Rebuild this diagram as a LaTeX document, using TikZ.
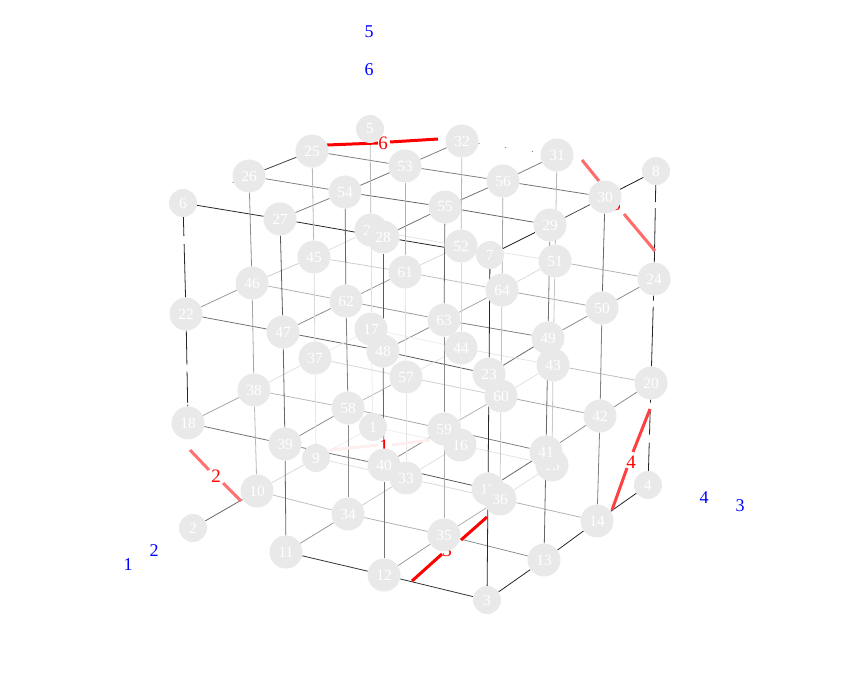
\documentclass[tikz,border=0pt]{standalone}
\usepackage{fontspec}
\setmainfont{Liberation Serif}
\pgfdeclarelayer{bg}
\pgfsetlayers{bg,main}
\definecolor{nodegray}{RGB}{233,233,233}
\tikzset{
  vert/.style={circle,fill=nodegray,text=white,inner sep=0pt,font=\fontsize{15.5}{15.5}\selectfont},
  small/.style={vert,minimum size=28pt},
  big/.style={vert,minimum size=33pt},
  edge/.style={line width=0.8pt},
  axisline/.style={line width=3pt},
  redlabel/.style={inner sep=0pt,text=red,font=\fontsize{19}{19}\selectfont},
  bluelabel/.style={inner sep=0pt,text=blue,font=\fontsize{18}{18}\selectfont}
}
\begin{document}
\begin{tikzpicture}[x=1pt,y=-1pt]
\useasboundingbox (0,0) rectangle (850,700);
% blue labels
\foreach \n/\t/\x/\y in {b1/1/128/565,b2/2/154/551,b3/3/740/506,b4/4/704/498,b5/5/369/32,b6/6/369/70}
  \node[bluelabel] (\n) at (\x,\y) {\t};
% red axis segments
\foreach \n/\ax/\ay/\bx/\by/\cx/\cy/\dx/\dy/\col in {
  1/331/450/378/445/392/445/430/440/FFEEEE,
  2/190/450/209/470/223/483/241/501/FF7070,
  3/412/581/442/554/461/540/487/517/FF0000,
  4/612/510/627/468/633/452/650/409/FF4040,
  5/582/160/599/181/624/214/655/251/FF6A6A,
  6/327/145/378/143/390/142/438/139/FF0000}{
  \definecolor{axcol}{HTML}{\col}
  \coordinate (p\n a) at (\ax,\ay);
  \coordinate (p\n b) at (\bx,\by);
  \coordinate (p\n c) at (\cx,\cy);
  \coordinate (p\n d) at (\dx,\dy);
  \draw[axisline,axcol] (p\n a) -- (p\n b);
  \draw[axisline,axcol] (p\n c) -- (p\n d);
}
\foreach \n/\x/\y in {1/384/446,2/216/476,3/447/550,4/631/462,5/616/204,6/383/143}
  \node[redlabel] (r\n) at (\x,\y) {\n};
% vertices
\foreach \n/\x/\y in {1/373/427,2/193/528,3/487/600,4/648/485,5/370/129,6/183/203,7/490/255,8/656/171,9/316/458}
  \node[small] (v\n) at (\x,\y) {\n};
\foreach \n/\x/\y in {
  10/257/491,11/286/552,12/384/575,13/544/560,14/597/521,15/552/465,16/460/445,
  17/371/329,18/188/423,19/488/489,20/651/383,21/371/230,22/186/314,23/489/374,24/654/279,
  25/312/151,26/249/176,27/280/219,28/383/237,29/550/225,30/605/197,31/557/155,32/462/141,
  33/406/478,34/348/514,35/444/535,36/500/499,37/315/358,38/254/390,39/285/444,40/384/465,
  41/546/452,42/600/416,43/553/365,44/461/348,45/314/257,46/252/283,47/283/332,48/383/351,
  49/548/338,50/602/308,51/555/261,52/461/246,53/405/166,54/345/192,55/445/207,56/503/181,
  57/406/377,58/348/408,59/444/429,60/501/396,61/405/272,62/346/301,63/444/320,64/502/290}
  \node[big] (v\n) at (\x,\y) {\n};
\begin{pgfonlayer}{bg}
% a/b/percent black
\foreach \a/\b/\d in {
  % top layer
  25/26/75, 32/53/50,53/54/55,54/27/50, 31/56/50,56/55/55,55/28/55,
  8/30/90,30/29/70,29/7/90,
  25/53/50,53/56/50,56/30/55, 26/54/50,54/55/60,55/29/60,
  6/27/85,27/28/85,28/7/85,
  % layer 2
  21/45/12,45/46/20,46/22/40, 21/52/10,52/51/10,51/24/30,
  45/61/20,61/64/25,64/50/35, 46/62/30,62/63/40,63/49/50,
  22/47/55,47/48/60,48/23/65, 52/61/15,61/62/40,62/47/45,
  51/64/15,64/63/35,63/48/45, 24/50/45,50/49/45,49/23/60,
  % layer 1
  17/37/7,37/38/12,38/18/35, 17/44/7,44/43/10,43/20/25,
  37/57/15,57/60/18,60/42/35, 38/58/28,58/59/35,59/41/50,
  18/39/55,39/40/55,40/19/65, 44/57/10,57/58/28,58/39/45,
  43/60/12,60/59/30,59/40/45, 20/42/45,42/41/45,41/19/60,
  % bottom layer
  1/9/7,9/10/15,10/2/60, 1/16/7,16/15/10,
  9/33/12,33/36/15,36/14/30, 10/34/25,34/35/30,35/13/45,
  11/12/80,12/3/80, 16/33/12,33/34/20,34/11/40,
  15/36/12,36/35/30,35/12/40, 4/14/85,14/13/85,13/3/85,
  % columns
  5/21/28,21/17/12,17/1/8, 25/45/28,45/37/15,37/9/10,
  26/46/45,46/38/35,38/10/28, 32/52/28,52/44/15,44/16/10,
  31/51/28,51/43/22,43/15/22, 53/61/30,61/57/12,57/33/10,
  54/62/60,62/58/50,58/34/45, 27/47/65,47/39/60,39/11/60,
  56/64/35,64/60/25,60/36/20, 55/63/60,63/59/45,59/35/32,
  28/48/65,48/40/60,40/12/55, 30/50/60,50/42/50,42/14/50,
  29/49/55,49/41/60,41/13/60, 7/23/85,23/19/85,19/3/85}
  \draw[edge,black!\d] (v\a) -- (v\b);
% outer columns with their breaks
\draw[edge,black!85,dash pattern=on 19pt off 8pt on 500pt] (v6) -- (v22);
\draw[edge,black!85,dash pattern=on 34pt off 7pt on 31pt off 2pt on 100pt] (v22) -- (v18);
\draw[edge,black!85,dash pattern=on 17pt off 6pt on 500pt] (v8) -- (v24);
\draw[edge,black!85,dash pattern=on 5pt off 6pt on 500pt] (v24) -- (v20);
\draw[edge,black!85,dash pattern=on 3pt off 7pt on 25pt off 8pt on 100pt] (v20) -- (v4);
% edges of which only specks remain
\draw[edge,black!50,dash pattern=on 1pt off 26pt] (v32) -- (v31);
\draw[edge,black!50,dash pattern=on 1pt off 100pt] (v26) -- (v6);
\end{pgfonlayer}
\end{tikzpicture}
\end{document}
